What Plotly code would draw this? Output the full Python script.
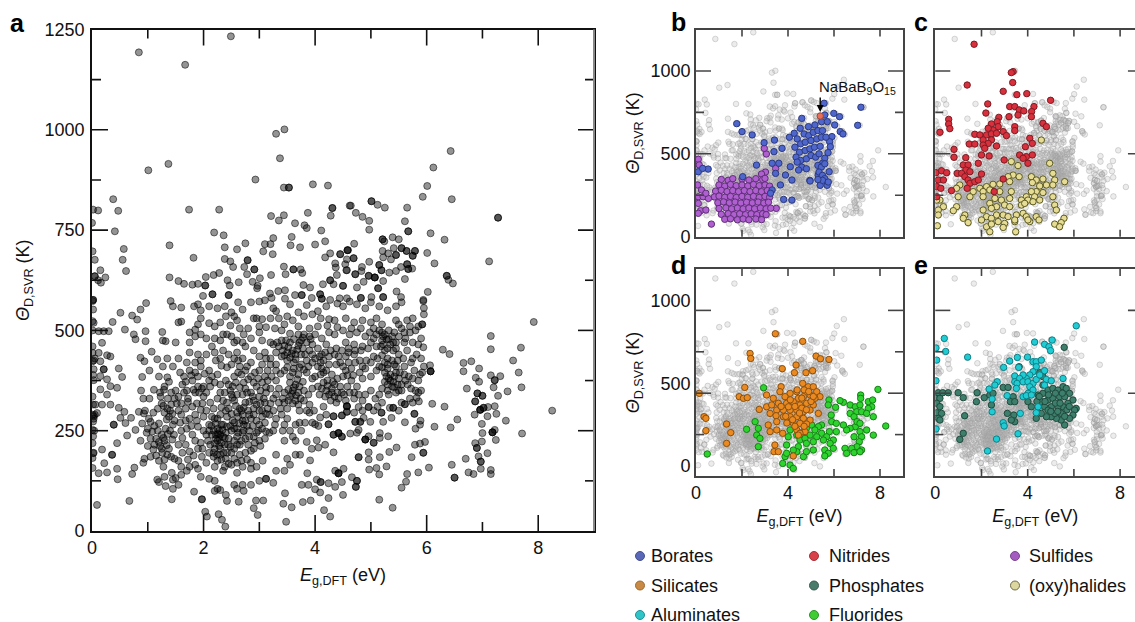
import plotly.graph_objects as go

# Values: (band gap in eV, Debye temperature in K)
compounds = [
(2.49,1233),(.84,1193),(1.67,1162),(3.3,990),(3.45,1001),(3.37,929),(1.01,899),(1.37,915),(2.93,876),(3.44,856),(3.53,856),(3.53,856),(3.96,864),(4.23,861),(.38,827),(.02,801),(.11,799),(.47,798),(1.74,801),(2.28,801),(0,768),(.41,747),(3.21,785),(3.35,774),(3.44,787),(3.87,793),(3.64,767),(3.81,762),(3.85,755),(4.11,749),(4.31,805),(4.31,805),(4.28,786),(4.62,811),(2.19,744),(2.36,737),(1.39,712),(3.25,730),(3.1,715),(3.2,715),(3.58,733),(3.56,712),(3.73,707),(4,714),(4.18,722),(2.75,717),(2.6,702),(2.38,707),(3.07,697),(3.24,690),(.57,703),(.01,697),(.05,676),(.55,676),(1.82,681),(.61,648),(2.38,678),(2.48,672),(2.79,675),(2.79,675),(2.53,658),(2.73,658),(2.91,652),(2.91,652),(2.78,640),(3.44,659),(3.61,652),(3.61,652),(3.74,652),(3.77,643),(3.47,640),(3.21,638),(.15,650),(.05,635),(.05,635),(.11,625),(.24,632),(.16,619),(1.39,632),(1.55,623),(1.65,616),(1.8,614),(1.9,616),(2.04,633),(2.03,612),(2.03,612),(2.18,638),(2.28,643),(2.43,625),(2.47,612),(2.63,620),(2.88,621),(3.01,630),(2.97,611),(2.96,605),(4.27,692),(4.45,690),(4.45,690),(4.58,700),(4.58,700),(4.18,682),(4.57,677),(4.36,667),(4.37,657),(4.39,638),(4.54,665),(4.27,625),(4.27,625),(4.14,615),(4.5,611),(4.5,611),(4.33,615),(4.57,650),(3.79,613),(3.91,607),(3.19,592),(3.34,598),(3.46,600),(3.64,588),(3.76,588),(3.76,588),(4.09,590),(4.09,590),(2.16,590),(2.16,590),(1.99,586),(2.45,588),(2.45,588),(4.44,580),(4.57,580),(.02,576),(.02,576),(1.41,573),(3.22,581),(3.46,579),(3.94,581),(4.12,579),(4.12,579),(4.27,576),
(6.43,947),(6.12,906),(6.01,860),(5.93,833),(6.45,827),(7.28,781),(7.28,781),(5.01,822),(5.01,822),(5.12,813),(5.25,806),(5.65,806),(4.64,811),(4.73,793),(4.85,783),(4.97,773),(5.61,772),(4.97,751),(5.67,747),(5.67,747),(6.07,742),(6.32,726),(5.21,727),(5.21,727),(5.39,732),(5.5,727),(5.24,722),(4.7,716),(4.59,700),(4.69,680),(4.69,680),(5.21,698),(5.31,692),(5.41,705),(5.45,688),(5.45,688),(5.55,705),(5.55,705),(5.64,698),(5.64,698),(5.79,698),(5.79,698),(5.75,686),(5.75,686),(5.36,677),(5.22,682),(6.01,693),(6.14,667),(7.12,672),(4.97,671),(5.15,663),(5.15,663),(4.84,658),(4.83,648),(4.72,640),(4.72,640),(4.56,650),(5.65,665),(5.65,665),(5.67,653),(5.67,653),(5.74,654),(5.54,658),(5.45,648),(5.33,644),(5.19,650),(5.19,650),(4.96,636),(4.96,636),(5.07,632),(5.07,632),(5.07,632),(5.22,623),(4.87,621),(4.75,607),(5.13,605),(5.13,605),(5.61,628),(6.36,636),(6.36,636),(6.39,626),(6.47,617),(6.02,596),(5.46,597),(5.54,583),(5.22,583),(5.22,583),(5.94,573),(4.82,581),(4.82,581),(5.01,583),
# sparse lower and right-hand points
(.09,65),(.67,75),(1.43,79),(1.83,98),(1.97,79),(1.97,79),(2.03,48),(2.06,36),(2.27,42),(2.33,28),(2.39,11),(2.42,75),(2.63,73),(2.94,76),(3.07,76),(2.9,57),(2.97,40),(3.43,68),(3.58,59),(3.48,23),(3.78,72),(3.92,76),(4.16,52),(4.27,36),(3.46,94),(4.24,82),(4.5,90),(5.15,78),(5.39,58),(5.55,108),(5.63,123),(5.65,142),(5.85,146),(6.04,158),(5.73,184),(5.15,141),(4.97,153),(5.1,157),(5.28,161),(5.16,184),(5.33,197),(5.46,208),(4.96,196),(4.96,178),(4.78,184),(4.78,184),(4.66,134),(4.75,125),(4.75,125),(4.73,110),(4.73,110),(4.42,144),(4.42,144),(4.42,144),(4.36,150),(4.51,155),(4.48,122),(4.36,110),(4.24,119),(4.1,122),(4.1,122),(4.03,128),(4,104),(4.09,96),(3.76,115),(3.88,115),(3.86,144),(4.33,196),(3.91,176),(6.5,133),(6.5,133),(6.45,165),(6.7,180),(6.75,146),(6.84,142),(6.97,155),(6.97,173),(6.97,173),(6.93,186),(7.09,194),(7.15,152),(7.15,142),(6.9,207),(6.9,207),(6.87,219),(6.99,223),(7,244),(7.18,246),(7.18,246),(7.18,246),(7.22,252),(7.24,227),(6.99,267),(6.14,260),(6.43,258),(6.55,278),(7.42,275),(7.71,243),(7.25,292),(7.09,286),(6.86,290),(6.96,302),(6.96,302),(6.96,302),(7.02,307),(7.02,307),(6.87,323),(6.87,323),(6.91,343),(6.91,343),(7,337),(7,337),(7.1,309),(7.22,311),(7.28,337),(7.45,348),(6.72,355),(6.94,372),(6.88,382),(7.2,358),(7.15,388),(7.22,376),(7.22,376),(7.32,386),(6.94,405),(6.66,398),(6.66,419),(6.8,423),(6.29,452),(6.41,441),(7.15,486),(7.15,453),(7.69,457),(7.92,521),(7.55,425),(7.65,395),(7.7,358),(8.25,300),(6.1,317),(6.32,310),(6.07,398),(6.07,398),(6.07,398),(6.06,413),(5.94,458),(5.95,540),(5.94,576),(5.92,515),(5.92,515),
(5.97,222),(5.94,195),(5.94,195),(5.79,215),(5.88,218),(5.89,275),(5.8,255),(5.88,265),(5.61,271),(5.78,292),(5.78,292),(5.37,282),(5.19,295),(5.19,295),(5.22,272),(5.4,307),(5.4,307),(5.34,307),(5.61,316),(5.61,316),(5.82,332),(5.86,323),(4.96,309),(4.96,309),(4.78,309),(4.57,311),(4.57,311),(4.57,311),(4.57,297),(4.57,297),(4.48,288),(4.48,288),(4.33,286),(4.33,286),(4.24,266),(4.24,266),(4.09,283),(4,266),(4.06,262),(4.42,244),(4.42,244),(4.42,244),(4.33,240),(4.33,240),(4.48,235),(4.48,235),(4.63,243),(4.75,245),(4.87,282),(4.72,272),(4.72,272),(4.81,272),(4.81,272),(4.99,272),(4.78,252),(4.9,228),(4.9,228),(4.9,228),(4.96,236),(5.05,220),(5.05,220),(5.16,244),(5.31,236),(5.16,232),(3.85,222),(4.03,226),(4.18,215),(3.94,205),(4.06,208),
# left column and lower left
(.01,573),(.02,552),(.01,523),(.03,519),(.01,500),(.01,460),(.01,444),(.01,423),(.02,389),(.03,376),(.01,335),(.02,315),(.01,290),(.02,273),(.01,252),(.02,236),(.01,219),(.02,194),(.01,182),(.01,157),(.03,425),(.05,430),(.03,280),(.05,290),(.04,250),(.03,195),
(.12,498),(.21,498),(.3,498),(.37,521),(.18,469),(.12,444),(.27,438),(.15,423),(.33,435),(.21,403),(.21,403),(.03,403),(.15,386),(.27,378),(.48,405),(.54,384),(.45,357),(.33,361),(.15,353),(.27,340),(.06,315),(.18,315),(.33,315),(.09,294),(.03,286),(.51,544),(.72,537),(.87,552),(.97,568),(.81,527),(.59,502),(.75,490),(.78,478),(.96,498),(.96,473),(.87,432),(1.07,447),(.94,423),(1.17,428),(.9,384),(.48,307),(.58,297),(.39,265),(.39,265),(.51,282),(.6,269),(.7,282),(.63,238),(.78,252),(.84,297),(.93,293),(.45,219),(.18,203),(.36,190),(.36,190),(.22,169),(.45,155),(.76,158),(.72,142),(.46,129),(.27,146),(.12,144),
(.88,350),(.92,330),(1.03,330),(1.11,352),(1.29,352),(1.23,335),(1.35,383),(1.2,385),(1.03,400),(1.27,410),(1.45,410),(1.35,430),(1.5,470),(.95,300),(1.02,280),(1.1,295),(.9,268),(1,255),(1.05,230),(.87,225),(1,212),(1.1,203),(.92,170),(.94,180),(1.2,175),(1.28,160),(1.35,190),(1.25,205),(1.15,230),(1.25,240),(1.3,225),(1.22,212),(1.32,255),(1.4,250),(1.45,265),(1.38,285),(1.3,295),(1.35,305),(1.42,315),(1.25,318),(1.18,305),(1.48,275),(1.47,240),(1.55,215),(1.48,180),(1.55,175),(1.6,160),(1.17,128),(1.2,122),(1.32,112),(1.3,135),(1.45,128),(1.45,105),(1.43,145),(1.5,132),(1.55,115),(1.6,140),(1.7,150),(1.75,160),(1.9,155),(1.95,135),(2.1,130),(2.2,125),(2.25,105),(2.2,100),(2.3,102),(2.4,90),(2.55,115),(2.6,105),(2.7,115),(2.72,100),(2.85,115),(3,125),(3.12,130),(3.12,130),(3.25,120),(3.3,150),(3.45,150),(3.55,165),(3.65,190),(3.73,190),(3.5,180),(3.3,190),(3.06,175),(2.95,160),(2.85,170),(2.7,160),(2.85,155),(2.6,145),(2.35,150),(2.5,165),(2.2,160),(2.05,170),(1.97,185),(1.85,165),
(1.5,350),(1.55,335),(1.62,365),(1.7,350),(1.72,330),(1.8,375),(1.85,345),(1.8,310),(1.9,360),(1.97,355),(2,360),(2,335),(1.65,385),(1.58,395),(1.75,400),(1.85,395),(1.95,410),(1.7,420),(1.55,430),(1.75,445),(1.9,440),(2.1,400),(2.22,425),(2.15,385),(2.25,390),(1.55,300),(1.6,290),(1.68,305),(1.75,280),(1.85,290),(1.6,250),(1.7,255),(1.8,240),(1.9,260),(2,285),(2.05,300),(2.12,320),(2.18,305),(2.25,330),(2.3,345),(2.3,290),(2.2,280),(2.1,265),
(2,250),(2.05,240),(2.08,225),(2.12,215),(2.1,195),(2.18,185),(2.25,175),(2.3,190),(2.4,180),(2.42,195),(2.3,205),(2.2,205),(2.32,220),(2.22,230),(2.3,240),(2.18,250),(2.25,255),(2.32,265),(2.4,245),(2.42,260),(2.15,240),(2.25,225),(2.35,235),(2.45,230),(2.5,250),(2.55,270),(2.62,285),(2.7,290),(2.75,275),(2.85,280),(2.6,255),(2.7,245),(2.75,230),(2.65,215),(2.8,215),(2.85,200),(2.75,195),(2.65,190),(2.9,235),(2.95,245),(3,265),(3.05,285),(3.1,270),(3,300),(2.9,305),(2.8,300),(2.75,320),(2.9,325),(3,335),(3.1,320),(3.15,305),(3.18,290),(2.85,345),(2.95,360),(2.75,355),(2.6,340),(2.55,325),(2.45,305),(2.42,285),(2.5,340),(2.35,325),(2.52,360),(2.4,375),(2.55,385),(2.62,395),(2.68,390),(2.75,400),(2.85,385),(3,400),(3.1,385),(3.05,370),(3.15,375),(3.2,355),(2.65,410),(2.7,430),(2.85,420),(3,435),(3.05,415),(2.5,415),(2.45,440),(2.6,445),(2.35,450),(2.75,460),(2.9,450),(3.1,445),(3.2,430),(3.3,400),
(2.25,280),(2.15,285),(2.35,265),(2.28,250),(2.22,240),(2.38,215),(2.48,210),(2.55,225),(2.6,235),(2.52,275),(2.72,265),(2.82,250),(2.92,220),(3,225),(2.72,308),(2.65,305),(2.58,312),(2.88,335),(2.7,340),(3.02,350),(3.12,345),
(3.35,460),(3.4,475),(3.45,462),(3.55,470),(3.6,450),(3.5,445),(3.65,440),(3.75,440),(3.7,462),(3.85,470),(3.95,465),(3.75,475),(3.3,445),(3.25,465),(3.4,435),(3.5,425),(3.62,420),(3.75,415),(3.85,425),(3.95,440),(4.05,455),(3.3,415),(3.45,400),(3.6,395),(3.7,390),(3.85,395),(3.55,370),(3.65,365),(3.6,350),(3.7,345),(3.55,335),(3.45,345),(3.45,320),(3.65,325),(3.8,325),(3.9,315),(3.8,350),(3.72,300),(3.85,300),(3.5,305),(3.35,320),(3.35,355),(3.3,375),(3.4,290),(3.5,280),(3.45,265),(3.65,265),(3.75,250),(3.9,295),(3.55,250),(3.65,225),(3.45,225),(3.25,250),(3.28,265),(3.18,245),(3.1,230),
(3.95,420),(4.05,410),(4.15,425),(4.25,435),(4.35,440),(4,385),(4.1,390),(4.2,400),(4.3,390),(4.05,360),(4.15,370),(4.2,350),(4.3,355),(4.25,340),(4.35,335),(4.4,345),(4.35,365),(4.45,360),(4.5,385),(4.55,400),(4.45,420),(4.55,435),(4.7,440),(4.8,425),(4.65,405),(4.8,395),(4.65,375),(4.75,360),(4.85,380),(4.9,405),(5,420),(5,385),(5.1,400),(5.15,410),(5.25,420),(5.3,405),(5.35,390),(5.25,395),(5.32,380),(5.4,372),(5.45,395),(5.3,365),(5.2,355),(5.3,350),(5.45,345),(5.55,350),(5.15,340),(5,350),(5.08,330),(4.9,340),(4.85,325),(4.7,330),(4.55,325),(5.2,320),(5.5,380),(5.62,375),(5.72,355),(5.6,410),(5.75,430),(5.65,450),(5.5,440),(5.4,450),(5.25,450),(5.35,465),(5.1,460),(4.95,455),(4.85,460),(4.7,465),(5.45,410),(5.85,375),(5.78,400),(5.88,390),(5.9,430),
(5.15,500),(5.2,495),(5.25,490),(5.32,500),(5.32,478),(5.38,485),(5.05,505),(4.55,470),(4.48,450),(4.12,440),(5.75,470),(5.85,465),(5.62,480),(5.7,495),
(1.45,560),(1.6,557),(1.83,560),(1.9,565),(1.95,550),(2.1,560),(2.25,555),(2.38,560),(2.5,545),(2.62,570),(2.7,552),(2.85,570),(3,572),(3.1,575),(3.3,548),(3.55,565),(3.85,563),(4.05,548),(4.2,560),(4.4,567),(4.5,560),(4.62,572),(4.75,565),(4.9,555),(5,570),(5.15,560),(5.3,550),(5.45,560),(5.55,570),(5.95,556),
(1.55,520),(1.6,522),(1.95,530),(2.1,518),(2.3,520),(2.4,535),(2.55,535),(2.6,525),(2.9,530),(2.95,530),(3.05,528),(3.2,530),(3.35,530),(3.45,515),(3.6,525),(3.8,535),(3.95,540),(4.1,530),(4.25,528),(4.35,525),(4.55,530),(4.7,520),(4.85,525),(5,520),(5.1,530),(5.2,515),(5.45,525),(5.5,515),(5.65,525),(5.75,530),
(1.26,496),(1.27,475),(1.32,473),(1.75,495),(1.85,502),(1.95,490),(1.75,470),(1.85,485),(2.05,480),(2.2,480),(2.3,475),(2.42,490),(2.5,485),(2.6,475),(2.72,490),(2.85,480),(3,495),(3.05,475),(3.2,470),(3.55,492),(3.7,490),(3.8,490),(3.9,485),(4,490),(4.12,480),(4.25,495),(4.35,490),(4.5,500),(4.62,490),(4.75,495),(4.9,485),(5.05,480),(5.45,470),(5.6,495),(5.8,500),(5.6,470),(5.2,475),(5,470),(4.2,465),(4.6,455),
# second pass over the dark clusters
(1.22,345),(1.3,360),(1.38,372),(1.42,345),(1.36,330),(1.28,312),(1.4,300),(1.48,330),(1.52,318),(1.44,292),(1.34,278),(1.2,268),(1.12,262),(1.05,272),(.98,245),(1.08,248),(1.18,250),(1.28,232),(1.36,242),(1.44,228),(1.34,214),(1.2,222),(1.12,215),(1.26,195),(1.38,205),(1.42,185),(1.3,178),(1.15,188),(1.05,185),(1.62,232),(1.68,215),(1.75,198),(1.62,195),(1.72,178),(1.82,188),(1.9,205),(1.85,225),(1.95,220),(1.98,205),(1.58,270),(1.68,275),(1.78,262),(1.88,275),(1.95,302),(1.88,318),(1.72,322),(1.6,318),(1.65,345),(1.82,352),(1.92,345),(1.98,318),(2.05,345),(2.12,360),(2.2,370),(2.1,375),(2.02,392),(1.9,385),(1.78,388),(1.68,372),
(2.1,250),(2.14,262),(2.22,268),(2.26,242),(2.34,252),(2.38,232),(2.28,232),(2.2,218),(2.28,212),(2.18,195),(2.24,190),(2.32,178),(2.36,195),(2.44,215),(2.5,195),(2.55,180),(2.45,168),(2.38,160),(2.55,205),(2.6,215),(2.68,225),(2.62,245),(2.48,262),(2.55,255),(2.64,268),(2.7,275),(2.78,262),(2.72,250),(2.82,235),(2.88,262),(2.95,275),(2.9,290),(2.82,290),(2.68,300),(2.6,295),(2.5,292),(2.4,300),(2.32,308),(2.42,320),(2.52,332),(2.48,350),(2.38,345),(2.3,365),(2.45,365),(2.58,370),(2.65,358),(2.72,370),(2.8,378),(2.9,370),(2.98,380),(2.92,395),(2.78,410),(2.62,425),(2.55,430),(2.42,408),(2.32,412),(2.78,345),(2.82,322),(2.95,315),(3.02,318),(3.08,330),(3.12,358),(3.05,300),(3.12,292),(3.2,318),(3.25,300),(2.98,250),(3.05,255),(3.12,248),(3.02,212),(2.9,205),(2.78,178),(2.68,175),(2.6,170),
(3.32,470),(3.42,450),(3.48,475),(3.52,458),(3.58,442),(3.68,452),(3.72,470),(3.78,455),(3.82,440),(3.9,450),(3.92,478),(3.78,482),(3.62,478),(3.45,438),(3.55,432),(3.65,428),(3.72,408),(3.8,402),(3.62,405),(3.5,408),(3.38,392),(3.55,385),(3.68,378),(3.78,372),(3.62,358),(3.52,352),(3.58,342),(3.66,338),(3.74,330),(3.6,318),(3.52,325),(3.42,330),(3.72,360),(3.88,340),(3.95,355),(3.95,380),(3.88,410),(4,430),(4.08,435),(4.18,445),(4.28,450),(4.38,455),
(4.15,395),(4.22,375),(4.12,355),(4.08,340),(4.18,335),(4.28,325),(4.38,320),(4.3,345),(4.22,362),(4.32,372),(4.4,380),(4.48,345),(4.42,330),(4.52,340),(4.58,360),(4.62,345),(4.7,345),(4.78,340),(4.68,388),(4.58,388),(4.5,410),(4.6,420),(4.72,420),(4.85,410),(4.92,425),(5.05,435),(5.12,430),(5.2,438),(5.3,430),(5.38,425),(5.42,415),(5.3,415),(5.2,408),(5.28,385),(5.35,375),(5.25,372),(5.38,360),(5.32,340),(5.42,358),(5.48,365),(5.5,350),(5.55,365),(5.42,385),(5.52,395),(5.6,390),(5.68,385),(5.66,365),(5.75,380),(5.8,350),(5.72,420),(5.82,440),(5.58,430),(5.48,425),(5.22,465),(5.28,478),(5.22,485),(5.18,460),(5.3,455),(5.4,470),(5.45,455),(5.5,485),(5.42,495),(5.55,505),(5.1,490),(4.98,495),(4.82,450),(4.72,450),(4.6,445),(4.42,435),(4.38,415),(4.25,415),(4.1,420),(4.12,405),
(3,510),(3.12,508),(3.28,505),(3.4,500),(3.7,510),(3.9,505),(4.05,510),(4.22,512),(4.4,508),(4.65,505),(4.82,505),(2.2,510),(2.48,512),(2.65,505),(2.8,505),(1.9,515),(3.5,535),(3.7,545),(3.25,555),(2.55,470),(2.7,470),(2.35,490),(2.15,460),(2.05,440),(1.95,425),(2.2,445),(2.3,430),(1.85,420),(3.15,400),(3.2,415),(3.12,430),(3.22,385),(3.3,340),(3.25,330),(3.38,305),(3.3,280),(3.42,250),(3.6,235),(3.72,270),(3.82,270),(3.95,270),(3.7,315),(3.98,300),(4.15,310),(4.2,290),(4.7,295),(4.85,300),(5.05,300),(5.12,310),(5.5,300),(5.55,320),(5.7,330),(5.75,320),(5.85,345),(5.9,350),(5.92,395),(5.95,410),(5.9,480),(5.85,510),(5.7,510),
]

borates = [(7.17,781),(7.03,672),(5.57,805),(5.99,744),(6.24,724),(5.6,734),(4.6,714),(1.77,682),(2,634),(2.44,614),(2.96,567),(3.41,583),(3.74,533),(3.39,513),(4.06,600),(4.27,624),(4.53,654),(4.89,664),(5.17,674),(5.46,694),(5.71,694),(6.03,674),(6.27,634),(6.39,620),(5.91,604),(5.81,573),(5.84,543),(5.74,507),(5.6,473),(5.5,443),(5.79,392),(5.31,372),(4.4,590),(4.7,620),(4.9,610),(5.1,630),(5.3,640),(5.5,640),(4.55,560),(4.75,570),(5,580),(5.25,590),(5.45,600),(5.65,600),(4.3,540),(4.5,510),(4.75,520),(4.95,530),(5.15,540),(5.4,545),(4.35,480),(4.55,460),(4.8,470),(5,490),(5.2,480),(5.35,500),(4.6,420),(4.8,410),(4.4,450),(5.3,430),(5.45,420),(5.6,440),(5.35,390),(5.5,370),(5.6,350),(5.4,310),(5.7,310),(5.5,340),(5.75,330),(5.3,345),(4.95,340),(2.63,432),(3.31,443),(3.6,443),(3.46,382),(3.89,372),(4.17,342),(3.31,282),(3.24,262),(3.81,225),(4.17,221),(3.67,312),(4.46,402),(4.1,422),(4.96,336),(.1,392),(.53,408),(.29,412),(2.03,362)]
highlight = [(5.4,728)]
sulfides = [(.67,76),(3.49,171),(3.06,499),(2.97,533),(3.46,412),(.1,467),(.14,433),(.07,312),(.24,282),(.1,241),(.31,241),(.1,201),(.2,157),(.43,161),(.1,141),(.54,231),(.43,262),(3.02,390),(2.85,378),
(1.1,345),(1.4,340),(1.6,350),(2,348),(2.3,342),(2.6,350),(2.9,345),(3,352),
(1,312),(1.25,305),(1.5,315),(1.75,308),(2,312),(2.25,306),(2.5,315),(2.75,308),(3,312),(3.2,305),
(.85,275),(1.1,280),(1.35,272),(1.6,278),(1.85,272),(2.1,278),(2.35,272),(2.6,278),(2.85,272),(3.1,278),
(.8,240),(1,245),(1.25,238),(1.5,243),(1.75,237),(2,243),(2.25,238),(2.5,243),(2.75,237),(3,243),(3.2,238),
(.95,205),(1.2,210),(1.45,204),(1.7,209),(1.95,203),(2.2,208),(2.45,204),(2.7,209),(2.95,203),(3.15,208),
(1,170),(1.3,174),(1.55,168),(1.8,173),(2.05,168),(2.3,173),(2.55,168),(2.8,173),(3.05,168),(3.25,172),
(1.1,135),(1.4,139),(1.65,133),(1.9,138),(2.15,133),(2.4,138),(2.65,133),(2.9,138),(3.05,133),
(1.25,105),(1.5,108),(1.8,102),(2.05,107),(2.3,102),(2.6,107),(2.85,103)]
nitrides = [(1.68,1161),(3.37,996),(3.29,990),(3.35,930),(1.38,915),(2.94,877),(3.53,857),(3.96,863),(4.99,823),(2.27,801),(2.19,746),(3.22,785),(3.44,785),(3.63,765),(3.83,759),(4.27,785),(4.17,755),(3.58,734),(3.19,724),(4.16,724),(2.75,720),(2.68,694),(2.43,680),(.58,708),(.58,680),(.63,652),(.2,630),(4.66,684),(4.81,664),(3.44,664),(3.44,640),(2.72,664),(2.5,644),(2.29,654),(2.94,634),(3.08,610),(1.71,618),(1.93,614),(2.22,614),(2.43,620),(2.65,624),(2.07,584),(2.43,584),(2.29,563),(1.47,559),(1.71,559),(2.07,553),(4.09,594),(4.2,563),(3.9,543),(2.65,547),(.81,527),(.81,479),(2.14,533),(2,493),(1.86,443),(2.33,487),(3.65,493),(3.94,483),(4.2,493),(4.01,443),(3.8,473),(2.98,463),(1.32,477),(1.21,433),(1.42,433),(1.32,402),(1.5,392),(.03,386),(.27,398),(.49,386),(.95,382),(1.14,382),(.13,342),(.35,342),(1.28,362),(1.42,342),(1.5,322),(1.38,292),(1.71,332),(1.86,342),(2,378),(.06,302),(.24,292),(.7,278),(.06,241),(2.55,272),(2.94,348)]
halides = [(3.29,453),(3.58,429),(4.95,443),(4.59,583),(3.37,372),(3.63,362),(3.15,362),(4.16,362),(4.37,342),(4.66,348),(5.09,382),(5.17,342),(5.6,332),(4.81,312),(4.2,326),(4.52,306),(5.09,312),(3.22,332),(2.79,318),(2.5,316),(2.22,302),(1.93,292),(1.06,312),(.92,292),(1.64,272),(2.07,272),(2.36,282),(2.79,272),(3.29,272),(4.37,272),(4.66,266),(4.16,272),(3.94,241),(4.3,241),(4.52,221),(5.09,241),(4.01,221),(3.73,221),(3.22,231),(2.86,221),(2.58,231),(2.07,241),(1.5,241),(.99,241),(.2,221),(.06,221),(.35,181),(3.73,191),(3.87,201),(4.23,211),(5.17,191),(5.24,161),(3,191),(3.22,181),(2.65,181),(2.36,201),(2.43,171),(2.07,161),(.92,181),(.78,157),(.13,161),(.13,131),(1.28,131),(2.22,121),(2.65,131),(2.94,131),(3.15,121),(3.51,131),(3.8,141),(3.94,121),(1.21,111),(1.42,85),(2,101),(2.43,111),(2.72,91),(3,80),(2.94,56),(3.44,91),(4.09,91),(4.37,121),(4.49,101),(4.01,101),(5.57,111),(5.45,85),(5.17,76),(5.38,60),(.09,66),(2.22,60),(2.43,76),(2.36,30),(3.48,30),(3.44,101)]
silicates = [(3.45,859),(4.64,813),(2.35,740),(2.38,710),(5.22,724),(5.41,708),(5.78,704),(3.75,648),(4.35,670),(4.28,624),(4.78,624),(5.07,636),(2.12,535),(.14,499),(1.88,479),(2.06,469),(2.23,473),(.35,358),(.43,348),(1.33,314),(.43,274),(1.51,262),(1.33,197),(2.75,402),(3.7,539),(3.07,489),(4.38,509),(4.64,559),(4.88,539),(5.1,539),(5.25,509),(5.39,479),(4.09,499),(3.87,479),(3.65,509),(3.36,469),(4.45,469),(4.67,479),(4.96,489),(5.17,469),(3.07,418),(3.29,429),(3.58,439),(3.94,439),(4.23,449),(4.52,429),(4.81,439),(5.1,429),(3.22,378),(3.51,398),(3.8,398),(4.09,398),(4.38,398),(4.67,388),(4.96,398),(5.32,378),(3.48,364),(3.14,308),(3.51,328),(3.8,358),(4.09,358),(4.38,358),(4.67,348),(4.96,338),(4.23,318),(4.52,318),(4.81,314),(3.51,278),(3.22,268),(3.77,258),(4.38,278),(4.74,268),(4.52,258),(3.43,187),(3.39,147),(3.58,147),(4.23,121),(4.45,247),(4.02,418),(4.3,420),(4.6,410),(4.8,400),(5,450),(3.9,360),(4.2,340),(4.5,380),(4.7,300),(3.7,420),(4.1,460),(4.4,520),(4.7,520),(4.9,510),(5.1,480),(4.6,470),(4.3,300),(3.95,320)]
fluorides = [(2.94,533),(7.91,523),(7.16,489),(7.16,469),(6.41,445),(6.26,455),(5.78,459),(5.75,429),(6.07,415),(6.7,429),(6.93,418),(7.13,429),(7.49,449),(7.68,459),(7.64,418),(7.49,408),(6.99,388),(7.2,388),(7.42,378),(7.71,358),(6.7,378),(6.87,358),(5.88,368),(6.93,298),(7,328),(7.13,318),(7.42,278),(7.71,247),(8.25,302),(6.7,288),(6.55,278),(6.87,237),(7.13,268),(7.2,237),(7.1,207),(7,177),(7.2,157),(6.77,167),(6.48,167),(6.55,137),(6.87,141),(7.13,147),(2.57,328),(2.2,282),(2.71,288),(2.64,247),(2.78,227),(2.71,177),(.49,133),(5.9,328),(6.1,318),(6.41,308),(6.1,268),(5.8,268),(5.46,308),(5.32,298),(5.03,308),(4.8,288),(5.17,278),(5.46,258),(5.68,237),(5.97,217),(5.83,197),(5.54,217),(5.25,237),(4.96,247),(4.67,268),(4.38,247),(4.09,278),(4.01,237),(4.52,217),(4.74,227),(5.1,207),(4.8,197),(4.45,177),(4.38,147),(4.67,117),(5.1,157),(5.6,157),(5.75,137),(5.6,121),(5.97,167),(3.94,187),(4.23,157),(3.87,117),(3.77,76),(4.09,66),(4.23,46),(3.94,137),(4.8,147)]
aluminates = [(6.1,907),(.39,831),(.03,773),(.45,752),(.06,700),(1.4,718),(.03,575),(.03,284),(4.3,809),(5.06,821),(4.73,795),(4.92,781),(4.99,757),(2.65,223),(2.26,151),(3.58,255),(2.94,322),(2.98,302),(2.46,388),(2.46,465),(2.68,569),(2.58,549),(2.33,525),(2.96,656),(3.22,694),(3.55,716),(3.99,718),(4.23,690),(4.37,690),(4.59,700),(4.37,660),(3.61,656),(3.44,604),(3.44,569),(3.11,485),(3.68,378),(4.37,382),(4.45,418),(4.73,636),(4.23,630),(4.09,610),(3.94,589),(3.8,610),(3.65,589),(3.54,559),(3.51,529),(3.8,569),(4.01,569),(4.23,559),(4.09,539),(4.23,519),(4.01,499),(3.8,479),(3.94,485),(4.16,489),(4.81,583),(5.02,575),(5.53,589),(4.73,549),(4.37,583),(4.52,610)]
phosphates = [(5.58,777),(.13,503),(.32,503),(.56,503),(.99,503),(1.21,473),(1.81,503),(1.78,449),(2.12,473),(2.36,489),(2.5,499),(0,469),(.2,469),(.06,439),(.2,419),(.06,382),(.27,378),(.13,348),(.2,338),(1.27,364),(1.21,258),(1.06,221),(2.43,429),(2.94,535),(3.15,535),(3.37,479),(3.25,449),(3.44,449),(3.12,378),(3.4,368),(3.44,328),(3.29,338),(3.63,660),(4.52,624),(4.66,600),(4.66,549),(4.01,449),(4.16,418),(4.37,348),(4.45,489),(4.66,499),(4.88,519),(5.09,529),(5.31,519),(5.53,539),(5.67,529),(5.81,499),(5.96,459),(6.1,408),(6.03,398),(5.96,368),(5.81,348),(5.6,308),(5.45,338),(5.24,348),(5.02,358),(4.81,358),(4.59,378),(4.73,418),(4.59,449),(4.88,459),(5.09,469),(5.38,479),(5.6,479),(5.74,439),(5.53,418),(5.31,418),(5.02,418),(4.88,398),(5.45,378),(5.17,378),(4.4,450),(4.5,480),(5.2,440),(5.4,440),(5.7,400),(5.8,420),(5.3,390),(5.6,360),(5,390),(4.75,450),(5.5,500),(4.9,490),(5.2,500)]

legend_names = ["Borates","Silicates","Aluminates","Nitrides","Phosphates","Fluorides","Sulfides","(oxy)halides"]
legend_fill = ["#5a68b8","#c98a45","#2fc4c8","#d8404a","#4a7c6c","#3fcc35","#a45cc0","#dcd6a0"]
legend_edge = ["#46508f","#9a6a30","#1f8f94","#a83038","#37594e","#2c9426","#7a4490","#6f6a45"]
xticks = [0,2,4,6,8]
yticks_big = [0,250,500,750,1000,1250]
yticks_small = [0,500,1000]

W, H = 1135, 622
def xdom(a, b): return [a/W, b/W]
def ydom(t, b): return [1-b/H, 1-t/H]
def split(pts): return [p[0] for p in pts], [p[1] for p in pts]

fig = go.Figure()
FONT = "Liberation Sans, Arial, sans-serif"
INK = "#111111"; FRAME = "#444444"
TW = 1.6

def add(pts, n, fill, edge, size=7.0, width=1.0):
    x, y = split(pts)
    sfx = "" if n == 1 else str(n)
    fig.add_trace(go.Scatter(x=x, y=y, mode="markers", xaxis="x"+sfx, yaxis="y"+sfx, showlegend=False, cliponaxis=True,
                             marker=dict(size=size, color=fill, line=dict(color=edge, width=width))))

add(compounds, 1, "rgba(0,0,0,0.42)", "rgba(0,0,0,0.52)")
GF, GE = "rgba(180,180,180,0.26)", "rgba(155,155,155,0.38)"
for n in (2,3,4,5):
    add(compounds, n, GF, GE, 5.6, 1)
S = 6.4
add(sulfides, 2, "#b05fd0", "#5f2f78", S)
add(borates, 2, "#4f66cc", "#2b3a80", S)
add(highlight, 2, "#e8705a", "#a04838", S)
add(halides, 3, "#e6dc96", "#5c5a20", S)
add(nitrides, 3, "#d8303c", "#7c1c24", S)
add(fluorides, 4, "#2ed42e", "#178017", S)
add(silicates, 4, "#ea8a20", "#8a5010", S)
add(phosphates, 5, "#3d7f6c", "#1f4a3c", S)
add(aluminates, 5, "#20ccd4", "#0f7f86", S)

# legend swatches on a hidden axes pair: column and row of each entry
lx = [0,0,0,1,1,1,2,2]; ly = [0,1,2,0,1,2,0,1]
fig.add_trace(go.Scatter(x=[[640,814,1015][i] for i in lx], y=[[556,585.5,615][j] for j in ly], mode="markers", xaxis="x6", yaxis="y6", showlegend=False, cliponaxis=False,
                         marker=dict(size=9, color=legend_fill, line=dict(color=legend_edge, width=1))))

tf = dict(family=FONT, size=18, color="#111111")
def xax(dom, rng, anchor, labels, **kw):
    d = dict(domain=dom, range=rng, anchor=anchor, showgrid=False, zeroline=False, showline=True, mirror=True, automargin=False,
             linecolor=kw.pop("lc", FRAME), linewidth=kw.pop("lw",1.6), ticks="",
             tickfont=tf, tickvals=xticks, ticktext=[str(v) if (labels=="all" or (labels=="even" and v%4==0)) else "" for v in xticks],
             layer="above traces")
    d.update(kw); return d
def yax(dom, rng, anchor, tv, mirror=True, **kw):
    d = dict(domain=dom, range=rng, anchor=anchor, showgrid=False, zeroline=False, showline=True, mirror=mirror, automargin=False,
             linecolor=kw.pop("lc", FRAME), linewidth=kw.pop("lw",1.6), ticks="",
             tickfont=tf, tickvals=tv, layer="above traces")
    d.update(kw); return d

ytitle = "<i>Θ</i><sub>D,SVR</sub> (K)"
xtitle = "<i>E</i><sub>g,DFT</sub> (eV)"
tfont = dict(family=FONT, size=18, color="#111111")

PL, PR, PT, PB = 92, 594, 29.5, 531
layout = dict(template="none", width=W, height=H, margin=dict(l=0,r=0,t=0,b=0,pad=0), paper_bgcolor="white", plot_bgcolor="rgba(0,0,0,0)", autosize=False, showlegend=False)
layout["xaxis"] = xax(xdom(PL,PR), [0,9], "y", "all", lc=INK, title=dict(text=xtitle, font=tfont, standoff=11))
layout["yaxis"] = yax(ydom(PT,PB), [0,1250], "x", yticks_big, lc=INK, ticklabelstandoff=2, title=dict(text=ytitle, font=tfont, standoff=10))

CR = 8.645
layout["xaxis2"] = xax(xdom(696,903), [0,9], "y2", "none")
layout["yaxis2"] = yax(ydom(29.5,236.7), [0,1250], "x2", yticks_small, title=dict(text=ytitle, font=tfont, standoff=6))
layout["xaxis3"] = xax(xdom(935.3,1135), [0,CR], "y3", "none")
layout["yaxis3"] = yax(ydom(29.5,236.7), [0,1250], "x3", yticks_small, mirror=False, showticklabels=False)
layout["xaxis4"] = xax(xdom(696,903), [0,9], "y4", "even", title=dict(text=xtitle, font=tfont, standoff=7))
layout["yaxis4"] = yax(ydom(269,476), [0,1250], "x4", yticks_small, ticklabelshift=-10, title=dict(text=ytitle, font=tfont, standoff=6))
layout["xaxis5"] = xax(xdom(935.3,1135), [0,CR], "y5", "even", title=dict(text=xtitle, font=tfont, standoff=7))
layout["yaxis5"] = yax(ydom(269,476), [0,1250], "x5", yticks_small, mirror=False, showticklabels=False)
layout["xaxis6"] = dict(domain=xdom(630,1030), range=[630,1030], anchor="y6", visible=False, fixedrange=True, automargin=False)
layout["yaxis6"] = dict(domain=ydom(545,622), range=[622,545], anchor="x6", visible=False, fixedrange=True, automargin=False)

ann = []
for txt, px, py in [("a",8,23),("b",669,22),("c",912,22),("d",669,265),("e",912,265)]:
    ann.append(dict(text="<b>"+txt+"</b>", x=px/W, y=1-py/H, xref="paper", yref="paper", xanchor="left", yanchor="middle",
                    showarrow=False, font=dict(family=FONT, size=25, color="#000000")))
for i, n in enumerate(legend_names):
    col = [649, 827, 1027][lx[i]]
    row = [556, 586, 615][ly[i]]
    ann.append(dict(text=n, x=col/W, y=1-row/H, xref="paper", yref="paper", xanchor="left", yanchor="middle",
                    showarrow=False, font=dict(family=FONT, size=18, color="#111111")))
ann.append(dict(text="NaBaB<sub>9</sub>O<sub>15</sub>", x=857/W, y=1-87/H, xref="paper", yref="paper", xanchor="center", yanchor="middle",
                showarrow=False, font=dict(family=FONT, size=15, color="#111111")))
ann.append(dict(text="", x=highlight[0][0], y=highlight[0][1]+25, xref="x2", yref="y2", ax=0, ay=-16, showarrow=True,
                arrowhead=2, arrowsize=1, arrowwidth=1.4, arrowcolor="#000000"))
layout["annotations"] = ann

# tick stubs, drawn inward from the frame; lengths are pixels / panel size
shapes = []
def xtick(sfx, v, frac, col):
    shapes.append(dict(type="line", xref="x"+sfx, yref="y"+sfx+" domain", x0=v, x1=v, y0=0, y1=frac, line=dict(color=col, width=TW)))
    shapes.append(dict(type="line", xref="x"+sfx, yref="y"+sfx+" domain", x0=v, x1=v, y0=1, y1=1-frac, line=dict(color=col, width=TW)))
def ytick(sfx, v, frac, col, right=True):
    shapes.append(dict(type="line", xref="x"+sfx+" domain", yref="y"+sfx, x0=0, x1=frac, y0=v, y1=v, line=dict(color=col, width=TW)))
    if right:
        shapes.append(dict(type="line", xref="x"+sfx+" domain", yref="y"+sfx, x0=1, x1=1-frac, y0=v, y1=v, line=dict(color=col, width=TW)))

hA, wA = PB-PT, PR-PL
for v in (2,4,6,8): xtick("", v, 16/hA, INK)
for v in (1,3,5,7): xtick("", v, 9/hA, INK)
for v in (250,500,750,1000): ytick("", v, 16/wA, INK)
for v in (125,375,625,875,1125): ytick("", v, 9/wA, INK)
for sfx, wd, right in (("2",207,True),("3",199.7,False),("4",207,True),("5",199.7,False)):
    for v in (2,4,6,8): xtick(sfx, v, 7/207.2, FRAME)
    for v in (500,1000): ytick(sfx, v, 15/wd, FRAME, right)
    for v in (250,750): ytick(sfx, v, 8/wd, FRAME, right)
# the c and e frames run past the picture's right edge: only the long stubs show
for sfx in ("3","5"):
    for v in (500, 1000):
        shapes.append(dict(type="line", xref="x"+sfx, yref="y"+sfx, x0=8.34, x1=CR, y0=v, y1=v, line=dict(color=FRAME, width=TW)))
# panel a has a greyer right edge
shapes.append(dict(type="line", xref="x domain", yref="y domain", x0=1, x1=1, y0=0, y1=1, line=dict(color="#888888", width=2)))
layout["shapes"] = shapes

fig.update_layout(**layout)
fig.write_html("out.html", config=dict(displayModeBar=False), post_script="document.body.style.margin='0';document.body.style.overflow='hidden';")
